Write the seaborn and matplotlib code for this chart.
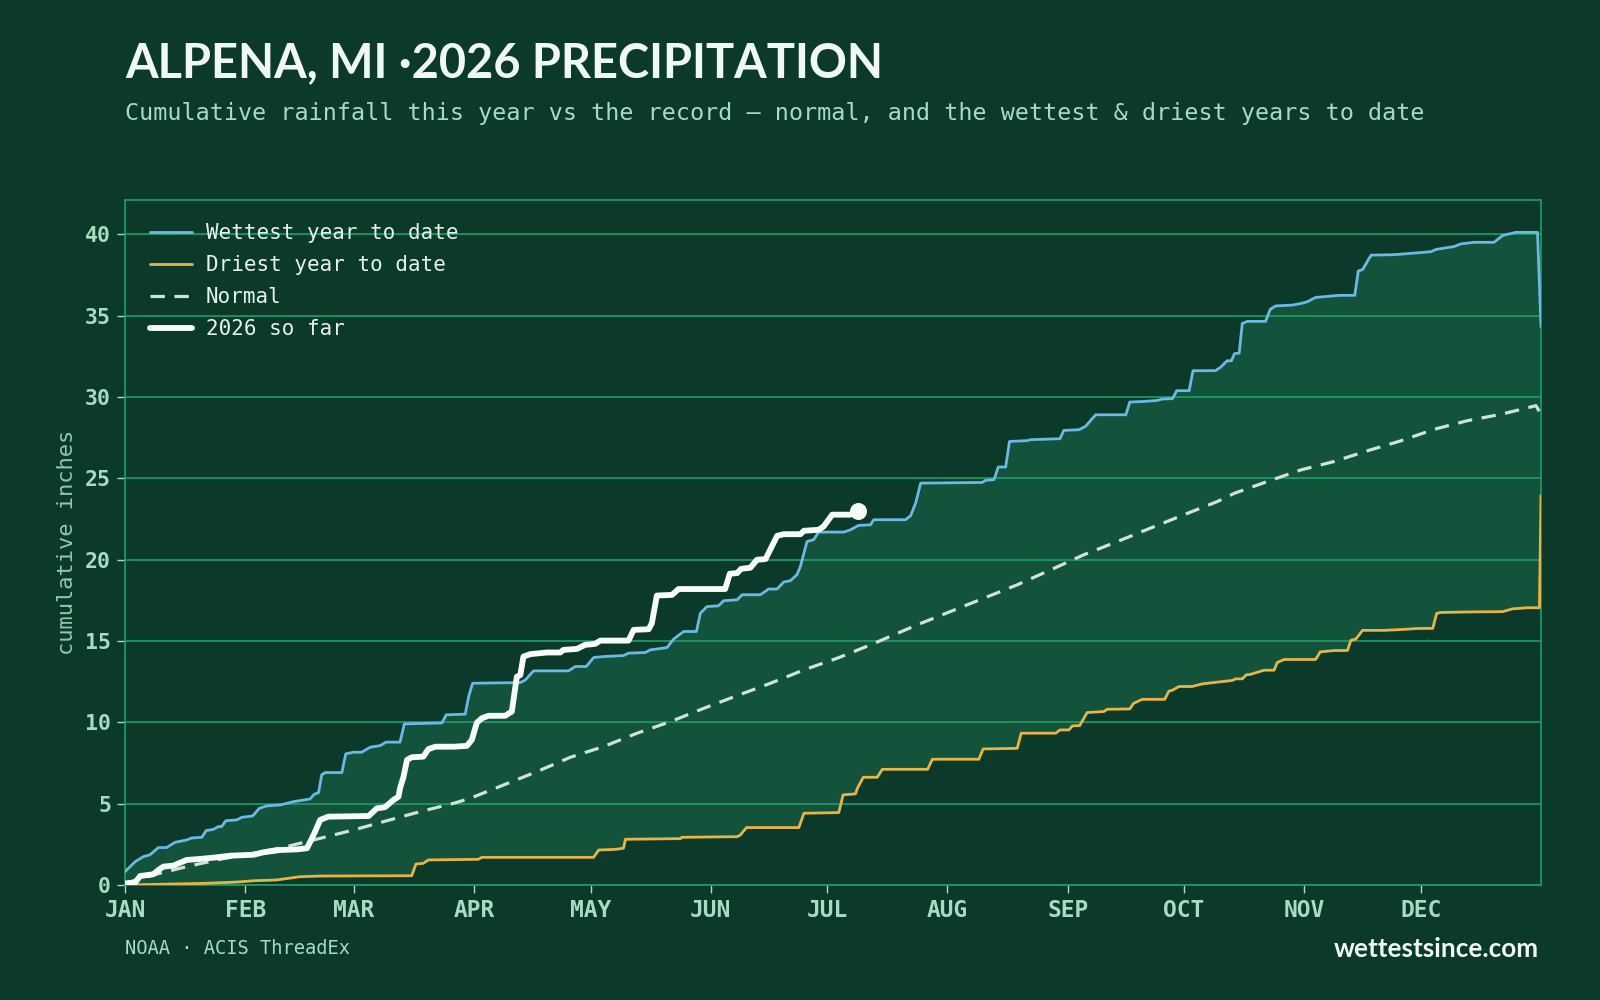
import numpy as np
import pandas as pd
import matplotlib
matplotlib.use("Agg")
import matplotlib.pyplot as plt
import seaborn as sns

# ---------------- data (day-of-year vertices, cumulative inches) ----------------
month_labels = ["JAN", "FEB", "MAR", "APR", "MAY", "JUN", "JUL", "AUG", "SEP", "OCT", "NOV", "DEC"]
month_start_days = [0, 31, 59, 90, 120, 151, 181, 212, 243, 273, 304, 334]

wet_days = [0, 2.6, 4.7, 6.4, 8.6, 10.7, 12.9, 15.9, 17.2, 19.8, 20.9, 22.8, 24.1, 24.9, 26.0, 28.8,
            30.1, 32.9, 34.6, 36.5, 40, 43.4, 47.7, 48.8, 49.9, 50.7, 51.6, 55.9, 56.9, 58.9, 61,
            63.2, 65.8, 67.3, 70.9, 72, 81.7, 82.8, 87.7, 88.6, 89.6, 101.9, 103.2, 105.3, 114.3,
            116.1, 118.9, 120.8, 123.4, 128.5, 129.8, 134.1, 135.4, 139.7, 141.4, 144, 147.3, 148.3,
            150, 153, 154.3, 157.8, 159.1, 163.8, 165.9, 168.1, 169.8, 171.5, 173.2, 174.1, 175.8,
            177.5, 178.8, 185.3, 187, 189.1, 192.2, 193, 201.2, 202.5, 203.8, 205.1, 221, 221.8,
            224, 225.1, 227, 228, 232.6, 233.4, 238.6, 241, 242, 245.9, 247.6, 250.2, 258, 259,
            262.6, 266.1, 267.4, 270, 271.1, 274.3, 275.3, 281.1, 282.4, 284.1, 285.2, 286, 287.2,
            288, 289.3, 294, 295.2, 296.6, 300.9, 303.1, 304.8, 306.9, 313, 317, 317.9, 319, 321.2,
            327.2, 332.3, 336.6, 337.9, 342.6, 344.3, 347.8, 352.9, 355.1, 358.5, 364.1, 365]
wet_vals = [0.82, 1.43, 1.74, 1.85, 2.3, 2.3, 2.62, 2.77, 2.89, 2.93, 3.34, 3.42, 3.59, 3.59, 3.95, 4.0,
            4.16, 4.24, 4.71, 4.86, 4.92, 5.12, 5.29, 5.58, 5.68, 6.77, 6.91, 6.91, 8.06, 8.16, 8.16,
            8.47, 8.57, 8.78, 8.78, 9.9, 9.96, 10.46, 10.5, 11.6, 12.4, 12.44, 12.6, 13.16, 13.16,
            13.43, 13.43, 13.98, 14.04, 14.1, 14.25, 14.29, 14.45, 14.59, 15.11, 15.58, 15.58, 16.7,
            17.11, 17.16, 17.47, 17.53, 17.84, 17.84, 18.19, 18.19, 18.62, 18.7, 19.07, 19.58, 21.11,
            21.22, 21.69, 21.69, 21.83, 22.1, 22.14, 22.45, 22.45, 22.69, 23.47, 24.7, 24.74, 24.87,
            24.91, 25.69, 25.69, 27.26, 27.31, 27.37, 27.41, 27.43, 27.94, 27.98, 28.19, 28.9, 28.9,
            29.68, 29.72, 29.78, 29.87, 29.89, 30.38, 30.38, 31.61, 31.61, 31.82, 32.22, 32.22, 32.66,
            32.69, 34.51, 34.64, 34.64, 35.38, 35.59, 35.64, 35.74, 35.85, 36.11, 36.24, 36.24, 37.74,
            37.82, 38.71, 38.74, 38.84, 38.92, 39.06, 39.24, 39.4, 39.5, 39.5, 39.92, 40.11, 40.11, 34.32]

dry_days = [0, 20.2, 28.8, 33.1, 39.1, 45.1, 50.3, 73.9, 75, 76.9, 78.2, 91.1, 92, 120.8, 122.1, 126.4,
            128.5, 129, 143.2, 143.5, 157.8, 158.6, 160.2, 173.7, 175, 184, 185.1, 188.3, 188.8,
            190.3, 193.9, 195.2, 206.9, 208.1, 220.1, 221.2, 230, 231, 239.9, 241, 243.3, 244.2,
            246.1, 248, 252.3, 253.2, 259, 260, 260.4, 262.2, 268, 269.1, 269.9, 271.7, 275.1, 277.7,
            282.4, 285.4, 286.3, 288, 289.1, 289.9, 293.6, 296.2, 297, 298.8, 306.9, 308.1, 311.7,
            315.1, 316, 317.3, 319, 324.6, 328.9, 333.6, 337.1, 338.1, 339.2, 346.1, 355.1, 357.6,
            361.4, 364.6, 365]
dry_vals = [0.0, 0.1, 0.18, 0.26, 0.31, 0.51, 0.55, 0.57, 1.29, 1.33, 1.54, 1.58, 1.7, 1.7, 2.15, 2.19,
            2.26, 2.81, 2.85, 2.93, 2.97, 3.07, 3.53, 3.53, 4.41, 4.45, 5.54, 5.6, 5.95,
            6.62, 6.62, 7.11, 7.11, 7.73, 7.73, 8.36, 8.4, 9.33, 9.33, 9.53, 9.53, 9.78,
            9.8, 10.6, 10.66, 10.8, 10.82, 11.17, 11.21, 11.41, 11.41, 11.92, 11.96, 12.2, 12.2, 12.36,
            12.49, 12.57, 12.67, 12.67, 12.93, 12.93, 13.2, 13.2, 13.67, 13.86, 13.86, 14.33, 14.41,
            14.41, 15.04, 15.12, 15.65, 15.65, 15.7, 15.77, 15.77, 16.69, 16.75, 16.78, 16.8, 16.97,
            17.04, 17.04, 23.93]

normal_days = [0, 7.3, 15.9, 24.5, 33.1, 41.7, 50.3, 58.9, 67.5, 76.1, 84.7, 89, 97.6, 106.2, 114.8,
               123.4, 132, 140.6, 149.2, 157.8, 166.4, 175, 183.6, 192.2, 204.2, 212.8, 221.4, 230,
               238.6, 247.2, 255.8, 264.4, 273, 281.6, 285.9, 294.5, 303.1, 311.7, 320.3, 328.9,
               337.5, 346.1, 354.7, 363.7, 365]
normal_vals = [0.1, 0.62, 1.13, 1.58, 1.95, 2.36, 2.87, 3.38, 3.95, 4.51, 5.02, 5.33, 6.15, 6.97, 7.85,
               8.51, 9.33, 10.04, 10.86, 11.64, 12.4, 13.22, 13.94, 14.76, 15.99, 16.81, 17.63, 18.45,
               19.37, 20.3, 21.11, 21.94, 22.76, 23.57, 24.07, 24.8, 25.51, 26.03, 26.69, 27.3,
               28.01, 28.54, 28.93, 29.46, 28.93]

cur_days = [0, 2.6, 3.9, 7.3, 8.6, 9.9, 12.5, 13.8, 15.9, 19.3, 22.8, 27.1, 33.1, 35.7, 40, 44.3, 46.9,
            47.9, 49, 50.3, 52.4, 62.8, 64.9, 67, 69.2, 70.5, 70.9, 71.8, 72.7, 73.9, 76.9, 78.2, 80,
            84.7, 88.1, 89.4, 90.7, 92, 93.7, 98, 99.3, 99.7, 101, 101.9, 102.7, 104.5, 108.8, 112.2,
            113, 116.5, 118.6, 121.2, 122.5, 129.8, 131.1, 135, 135.8, 137.1, 141, 142.7, 154.7,
            155.9, 157.8, 158.8, 161.2, 162.9, 165.1, 168.1, 169.8, 174.1, 175, 178.8, 180.1, 182.3, 187]
cur_vals = [0.1, 0.15, 0.55, 0.66, 0.92, 1.13, 1.19, 1.33, 1.54, 1.6, 1.68, 1.8, 1.86, 2.01, 2.15, 2.19,
            2.26, 2.73, 3.28, 4.0, 4.2, 4.24, 4.71, 4.78, 5.23, 5.43, 5.95, 6.66, 7.69, 7.85, 7.89,
            8.35, 8.5, 8.5, 8.55, 8.92, 9.98, 10.25, 10.4, 10.4, 10.6, 10.65, 12.8, 12.9, 14.04, 14.19,
            14.29, 14.29, 14.45, 14.51, 14.76, 14.82, 15.02, 15.02, 15.68, 15.72, 16.09, 17.79, 17.83,
            18.19, 18.19, 19.13, 19.17, 19.43, 19.5, 19.99, 20.03, 21.46, 21.56, 21.56, 21.77, 21.83,
            22.04, 22.76, 22.76]

today_day = [189]
today_val = [23.0]

# ---------------- style ----------------
BG = "#0b3a2a"
FILL = "#13523b"
GRID = "#1f9e67"
TICK = "#a6dcbf"
TITLE = "#f0f8f2"
WET = "#6cb9e6"
DRY = "#e6b547"
NORMAL = "#cfe3d6"
CUR = "#f8fcf8"
MONO = ["DejaVu Sans Mono"]
SANS = ["Lato", "DejaVu Sans"]

sns.set_theme(style="dark")
plt.rcParams["font.family"] = ["DejaVu Sans"]

fig = plt.figure(figsize=(16, 10), dpi=100, facecolor=BG)
ax = fig.add_axes([125 / 1600, 115 / 1000, 1416 / 1600, 685 / 1000])
ax.set_facecolor(BG)

# band between driest and wettest
band_x = np.concatenate([wet_days, dry_days[::-1]])
band_y = np.concatenate([wet_vals, dry_vals[::-1]])
ax.fill(band_x, band_y, color=FILL, lw=0, zorder=1)

wet_df = pd.DataFrame({"day": wet_days, "in": wet_vals})
dry_df = pd.DataFrame({"day": dry_days, "in": dry_vals})
nor_df = pd.DataFrame({"day": normal_days, "in": normal_vals})
cur_df = pd.DataFrame({"day": cur_days, "in": cur_vals})

sns.lineplot(data=wet_df, x="day", y="in", ax=ax, color=WET, lw=2.0, sort=False,
             estimator=None, label="Wettest year to date", zorder=3)
sns.lineplot(data=dry_df, x="day", y="in", ax=ax, color=DRY, lw=2.0, sort=False,
             estimator=None, label="Driest year to date", zorder=3)
sns.lineplot(data=nor_df, x="day", y="in", ax=ax, color=NORMAL, lw=2.3, sort=False,
             estimator=None, label="Normal", linestyle=(0, (4.5, 3.0)), zorder=3)
sns.lineplot(data=cur_df, x="day", y="in", ax=ax, color=CUR, lw=4.2, sort=False,
             estimator=None, label="2026 so far", zorder=4)
sns.scatterplot(x=today_day, y=today_val, ax=ax, color=CUR, s=150, linewidth=0, zorder=5)

ax.set_xlim(0, 365)
ax.set_ylim(0, 42.1)
ax.set_xticks(month_start_days)
ax.set_xticklabels(month_labels)
ax.set_yticks(range(0, 41, 5))
ax.set_xlabel("")
ax.set_ylabel("")

ax.set_axisbelow("line")
ax.grid(axis="y", color=GRID, lw=1.2, zorder=2)
ax.grid(axis="x", visible=False)
for sp in ax.spines.values():
    sp.set_visible(True)
    sp.set_color(GRID)
    sp.set_linewidth(1.2)

ax.tick_params(axis="both", colors=TICK, labelcolor=TICK, length=6, width=1.0, pad=4,
               bottom=True, left=True)
for lab in ax.get_xticklabels():
    lab.set_fontfamily(MONO)
    lab.set_fontweight("bold")
    lab.set_fontsize(16.5)
for lab in ax.get_yticklabels():
    lab.set_fontfamily(MONO)
    lab.set_fontweight("bold")
    lab.set_fontsize(15.5)

leg = ax.legend(loc="upper left", bbox_to_anchor=(0.0177, 0.966), frameon=False,
                borderpad=0, borderaxespad=0, handlelength=2.0, handletextpad=0.67,
                labelspacing=0.57, prop={"family": MONO, "size": 15})
for t in leg.get_texts():
    t.set_color("#e6f3ea")

fig.text(67 / 1600, 1 - 542 / 1000, "cumulative inches", rotation=90, ha="center", va="center",
         color="#8fcaa8", fontsize=15.8, family=MONO)

fig.text(125 / 1600, 1 - 77 / 1000, "ALPENA, MI \u00b72026 PRECIPITATION", ha="left",
         va="baseline", color=TITLE, fontsize=33.8, fontweight="bold", family=SANS)
fig.text(125 / 1600, 1 - 120 / 1000,
         "Cumulative rainfall this year vs the record \u2014 normal, and the wettest & driest years to date",
         ha="left", va="baseline", color=TICK, fontsize=16.85, family=MONO)

fig.text(125 / 1600, 1 - 948 / 1000, "NOAA \u00b7 ACIS ThreadEx", ha="left", va="center",
         color=TICK, fontsize=13.5, family=MONO)
fig.text(1539 / 1600, 1 - 949 / 1000, "wettestsince.com", ha="right", va="center",
         color=TITLE, fontsize=18.8, fontweight="bold", family=SANS)

fig.savefig("out.png", dpi=100, facecolor=BG)
